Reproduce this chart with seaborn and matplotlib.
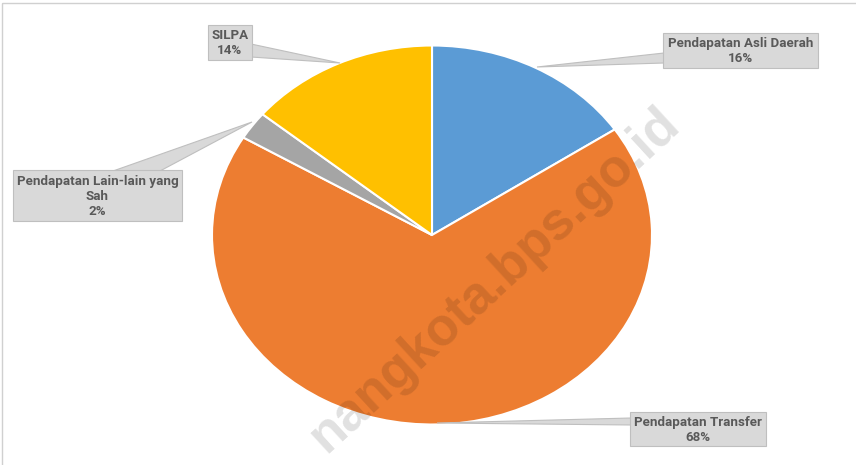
import matplotlib
matplotlib.use("Agg")
import matplotlib.pyplot as plt
import seaborn as sns
from matplotlib.patches import Polygon, Rectangle

sns.set_theme(style="white")
plt.rcParams['font.family'] = ['Roboto', 'DejaVu Sans']

categories = ["Pendapatan Asli Daerah", "Pendapatan Transfer",
              "Pendapatan Lain-lain yang\nSah", "SILPA"]
values = [15.6, 68.0, 2.4, 14.0]
pct_labels = ["16%", "68%", "2%", "14%"]
colors = ["#5B9BD5", "#ED7D31", "#A5A5A5", "#FFC000"]

W, H = 856, 465
fig = plt.figure(figsize=(W / 100, H / 100), dpi=100)
fig.patch.set_facecolor("white")

# pie axes (ellipse bounding box in pixels)
cx, cy, rx, ry = 432, 235, 220, 189.5
axp = fig.add_axes([(cx - rx) / W, (H - cy - ry) / H, 2 * rx / W, 2 * ry / H])
axp.pie(values, colors=colors, startangle=90, counterclock=False,
        wedgeprops=dict(edgecolor="white", linewidth=1.5))
axp.set_aspect("auto")
axp.set_xlim(-1, 1)
axp.set_ylim(-1, 1)
axp.axis("off")

# overlay axes in pixel coordinates
ov = fig.add_axes([0, 0, 1, 1], zorder=5)
ov.set_xlim(0, W)
ov.set_ylim(H, 0)
ov.axis("off")
ov.patch.set_alpha(0)

# chart border
ov.add_patch(Rectangle((2.5, 3.5), W + 10, H + 10, fill=False,
                       edgecolor="#D0D0D0", linewidth=1))

box_fc, box_ec, txt_c = "#D9D9D9", "#BFBFBF", "#595959"

# callouts: box (x0, y0, x1, y1), leader polygon
boxes = [(663, 33, 818, 68), (630, 412, 766, 446), (13, 170, 182, 221), (208, 25, 252, 60)]
leaders = [
    [(664, 53), (537, 67), (664, 63)],
    [(631, 418), (437, 423), (631, 425)],
    [(113, 171), (252, 122), (160, 171)],
    [(251, 44), (340, 63), (251, 57)],
]
for i, (b, lead) in enumerate(zip(boxes, leaders)):
    x0, y0, x1, y1 = b
    ov.add_patch(Polygon(lead, closed=True, facecolor=box_fc, edgecolor=box_ec,
                         linewidth=0.8, zorder=6))
    ov.add_patch(Rectangle((x0, y0), x1 - x0, y1 - y0, facecolor=box_fc,
                           edgecolor=box_ec, linewidth=0.8, zorder=7))
    ov.text((x0 + x1) / 2, (y0 + y1) / 2 + 0.5, categories[i] + "\n" + pct_labels[i],
            ha="center", va="center", fontsize=9.6, fontweight="bold",
            color=txt_c, zorder=8, linespacing=1.2)

# watermark
ov.text(494, 280, "nangkota.bps.go.id", rotation=42.6, rotation_mode="anchor",
        ha="center", va="center", fontsize=38, fontweight="bold",
        color="black", alpha=0.12, zorder=9, family=["Liberation Sans", "DejaVu Sans"])

fig.savefig("out.png", dpi=100, facecolor="white")
